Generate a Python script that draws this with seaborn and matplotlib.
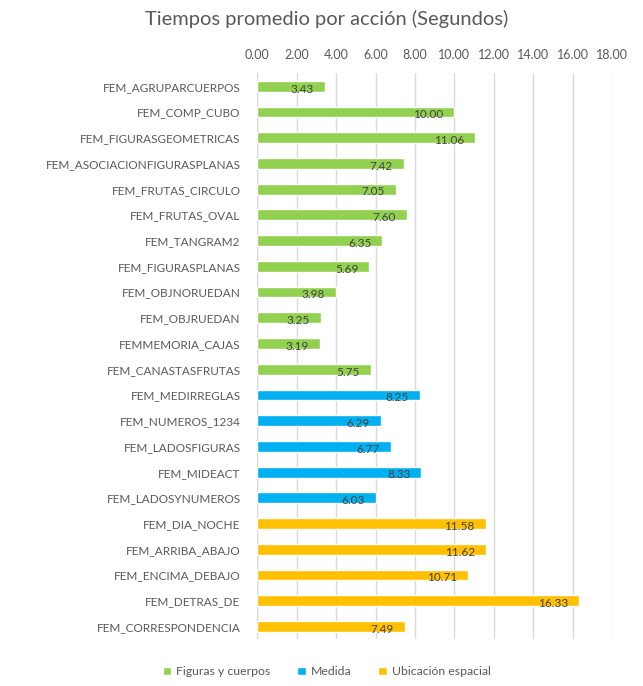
import pandas as pd
import matplotlib
matplotlib.use("Agg")
import matplotlib.pyplot as plt
import seaborn as sns

actions = [
    "FEM_AGRUPARCUERPOS", "FEM_COMP_CUBO", "FEM_FIGURASGEOMETRICAS",
    "FEM_ASOCIACIONFIGURASPLANAS", "FEM_FRUTAS_CIRCULO", "FEM_FRUTAS_OVAL",
    "FEM_TANGRAM2", "FEM_FIGURASPLANAS", "FEM_OBJNORUEDAN", "FEM_OBJRUEDAN",
    "FEMMEMORIA_CAJAS", "FEM_CANASTASFRUTAS",
    "FEM_MEDIRREGLAS", "FEM_NUMEROS_1234", "FEM_LADOSFIGURAS", "FEM_MIDEACT",
    "FEM_LADOSYNUMEROS",
    "FEM_DIA_NOCHE", "FEM_ARRIBA_ABAJO", "FEM_ENCIMA_DEBAJO", "FEM_DETRAS_DE",
    "FEM_CORRESPONDENCIA",
]
seconds = [3.43, 10.00, 11.06, 7.42, 7.05, 7.60, 6.35, 5.69, 3.98, 3.25, 3.19, 5.75,
           8.25, 6.29, 6.77, 8.33, 6.03,
           11.58, 11.62, 10.71, 16.33, 7.49]
groups = ["Figuras y cuerpos"] * 12 + ["Medida"] * 5 + ["Ubicación espacial"] * 5
group_names = ["Figuras y cuerpos", "Medida", "Ubicación espacial"]
colors = ["#92D050", "#00B0F0", "#FFC000"]

df = pd.DataFrame({"accion": actions, "segundos": seconds, "grupo": groups})

sns.set_style("white")
plt.rcParams["font.family"] = ["Lato", "DejaVu Sans"]
text_color = "#595959"

fig, ax = plt.subplots(figsize=(6.43, 6.86), dpi=100)
fig.subplots_adjust(left=0.40, right=0.952, top=0.893, bottom=0.068)

sns.barplot(data=df, y="accion", x="segundos", hue="grupo", hue_order=group_names,
            palette=colors, order=actions, dodge=False, width=0.42, saturation=1,
            orient="h", ax=ax, legend=True)

ax.set_xlim(0, 18)
ax.set_xticks(range(0, 19, 2))
ax.set_xticklabels([f"{v:.2f}" for v in range(0, 19, 2)])
ax.xaxis.tick_top()
ax.tick_params(axis="x", length=0, labelsize=9, colors=text_color, pad=9)
ax.tick_params(axis="y", length=0, labelsize=8.5, colors=text_color, pad=12)
ax.grid(axis="x", color="#D9D9D9", linewidth=1)
ax.set_axisbelow(True)
for s in ax.spines.values():
    s.set_visible(False)
ax.axvline(0, color="#D9D9D9", linewidth=1, zorder=0)
ax.set_xlabel("")
ax.set_ylabel("")
ax.set_ylim(len(actions) - 0.5, -0.5)

for i, v in enumerate(seconds):
    ax.annotate(f"{v:.2f}", xy=(v, i), xytext=(-8, -2), textcoords="offset points",
                ha="right", va="center", fontsize=8.5, color="#404040")

fig.text(0.508, 0.972, "Tiempos promedio por acción (Segundos)", fontsize=14.5,
         color=text_color, ha="center", va="center")

handles, labels = ax.get_legend_handles_labels()
ax.legend(handles, labels, loc="center", bbox_to_anchor=(0.508, 0.021),
          bbox_transform=fig.transFigure,
          ncol=3, frameon=False, fontsize=8.8, labelcolor=text_color,
          handlelength=0.7, handleheight=0.7, handletextpad=0.4, columnspacing=2.2)

fig.savefig("out.png", dpi=100)
